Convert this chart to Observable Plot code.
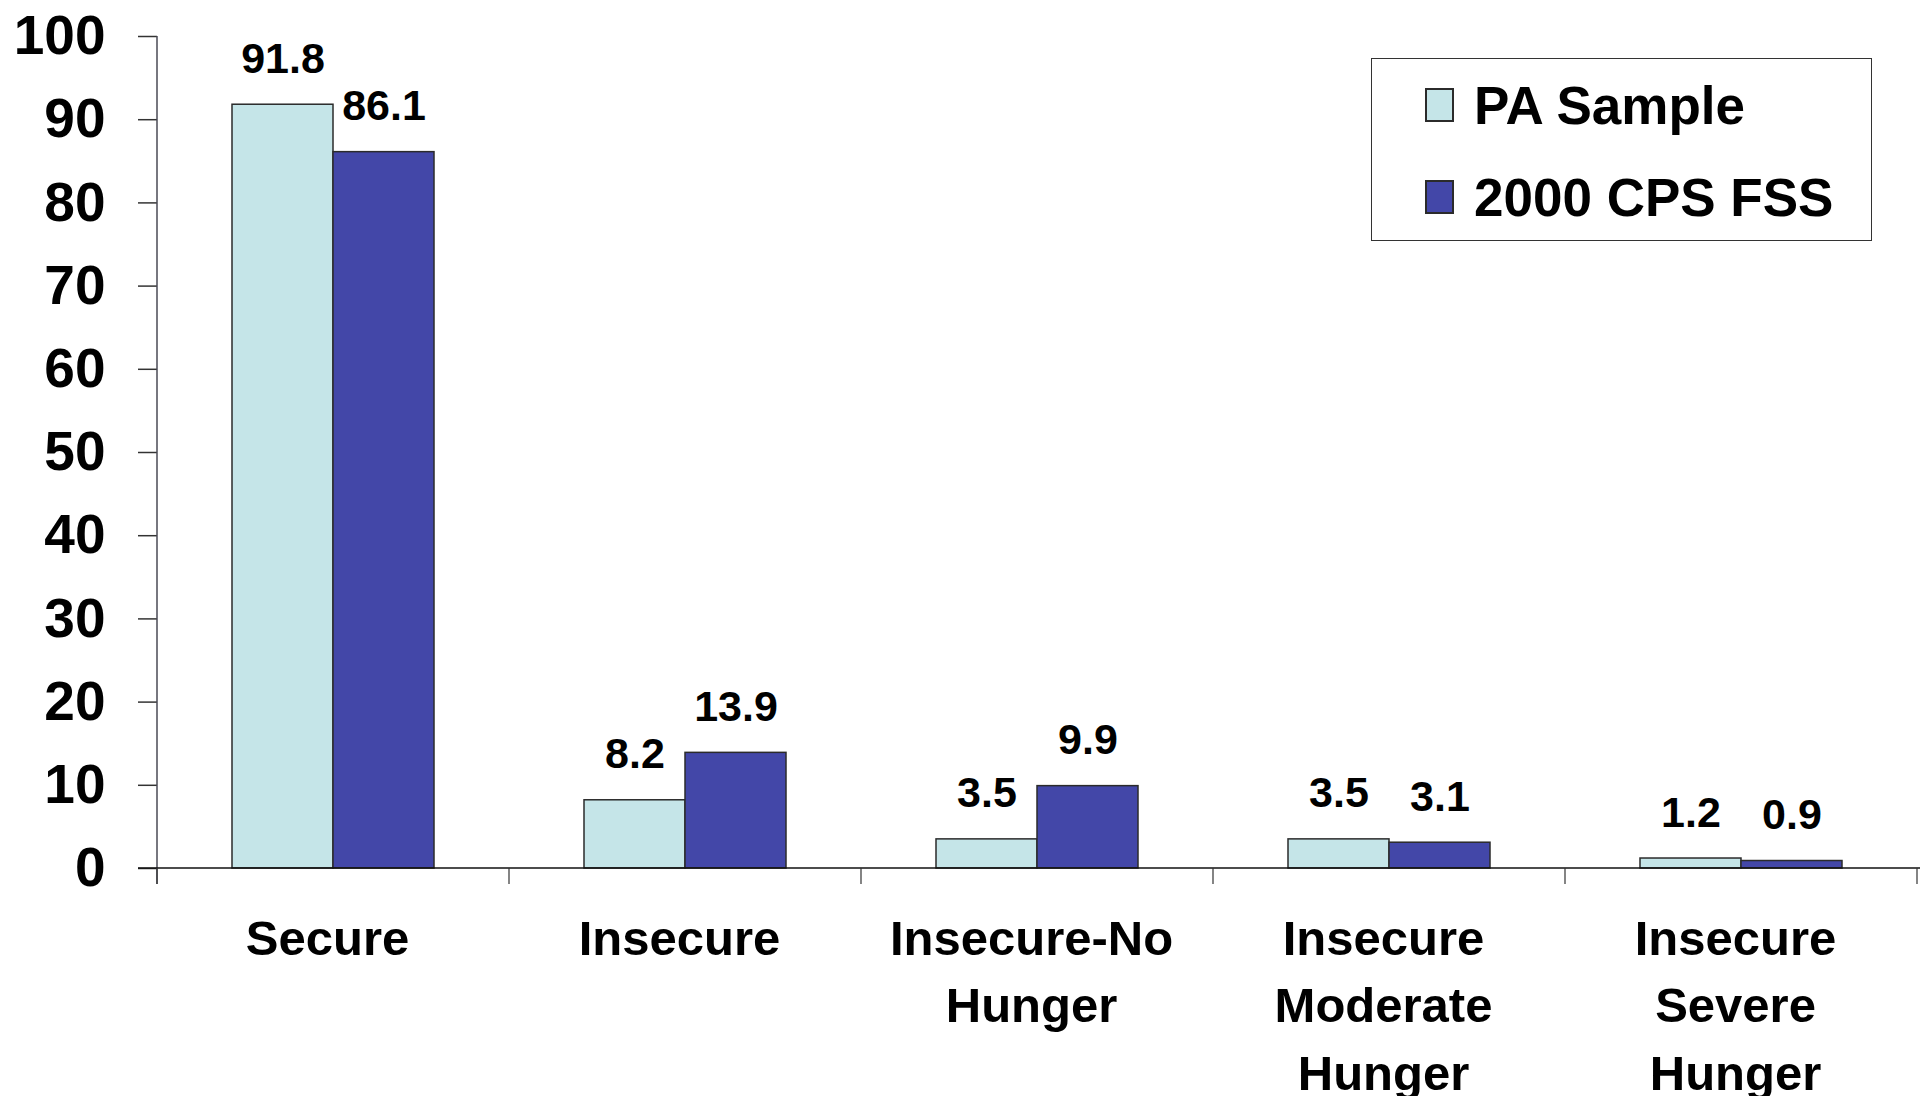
<!DOCTYPE html>
<html>
<head>
<meta charset="utf-8">
<script src="https://cdn.jsdelivr.net/npm/d3@7"></script>
<script src="https://cdn.jsdelivr.net/npm/@observablehq/plot@0.6"></script>
<style>
  html, body { margin: 0; padding: 0; background: #fff; overflow: hidden; }
  #wrap { position: relative; width: 1920px; height: 1096px; font-family: "Liberation Sans", Arial, Helvetica, sans-serif; }
  #legend { position: absolute; left: 1371px; top: 58px; width: 499px; height: 181px; border: 1.5px solid #333; background: #fff; }
  .item { position: absolute; left: 53px; height: 60px; display: flex; align-items: center; }
  .sw { width: 25px; height: 30px; border: 2px solid #2b2b2b; box-sizing: content-box; margin-right: 20px; }
  .lab { font-size: 53px; font-weight: bold; line-height: 1; color: #000; white-space: nowrap; }
</style>
</head>
<body>
<div id="wrap">
  <div id="chart"></div>
  <div id="legend"></div>
</div>
<script>
const categories = ["Secure", "Insecure", "Insecure-No Hunger", "Insecure Moderate Hunger", "Insecure Severe Hunger"];
const tickLabels = ["Secure", "Insecure", "Insecure-No\nHunger", "Insecure\nModerate\nHunger", "Insecure\nSevere\nHunger"];
const series = ["PA Sample", "2000 CPS FSS"];
const paSample = [91.8, 8.2, 3.5, 3.5, 1.2];
const cps2000 = [86.1, 13.9, 9.9, 3.1, 0.9];
const yTicks = [0, 10, 20, 30, 40, 50, 60, 70, 80, 90, 100];
const colors = ["#c5e5e8", "#4347a8"];

const FONT = '"Liberation Sans", Arial, Helvetica, sans-serif';

const data = categories.flatMap((c, i) => [
  {category: c, series: series[0], value: paSample[i]},
  {category: c, series: series[1], value: cps2000[i]}
]);

function axisLines(index, scales, values, dims) {
  const {marginLeft, marginRight, width} = dims;
  const y0 = scales.y(0), y100 = scales.y(100);
  let edges;
  if (scales.fx && scales.fx.bandwidth) {
    const bw = scales.fx.bandwidth();
    edges = categories.map(c => scales.fx(c));
    edges.push(scales.fx(categories[categories.length - 1]) + bw);
  } else {
    const w = (width - marginLeft - marginRight) / categories.length;
    edges = d3.range(categories.length + 1).map(i => marginLeft + i * w);
  }
  const g = d3.create("svg:g");
  g.append("line").attr("x1", marginLeft).attr("x2", marginLeft)
    .attr("y1", y100).attr("y2", y0 + 16).attr("stroke", "#4a4a55").attr("stroke-width", 1.5);
  g.append("line").attr("x1", marginLeft - 19).attr("x2", width)
    .attr("y1", y0).attr("y2", y0).attr("stroke", "#111").attr("stroke-width", 1.5);
  g.selectAll("line.t").data(edges).join("line").attr("class", "t")
    .attr("x1", d => d).attr("x2", d => d)
    .attr("y1", y0).attr("y2", y0 + 16).attr("stroke", "#333").attr("stroke-width", 1.2);
  return g.node();
}

const chart = Plot.plot({
  width: 1920,
  height: 1096,
  marginLeft: 157,
  marginRight: 3,
  marginTop: 36,
  marginBottom: 228,
  style: {fontFamily: FONT, fontWeight: "bold", background: "white", overflow: "visible", color: "black"},
  fx: {domain: categories, padding: 0, label: null},
  x: {domain: series, paddingInner: 0, paddingOuter: 0.74, axis: null},
  y: {domain: [0, 100], label: null},
  color: {domain: series, range: colors},
  marks: [
    Plot.barY(data, {fx: "category", x: "series", y: "value", fill: "series", stroke: "#2b2b2b", strokeWidth: 1.5}),
    Plot.text(data, {fx: "category", x: "series", y: "value", text: d => d.value.toFixed(1), dy: -32, lineAnchor: "bottom", fontSize: 43, fontWeight: "bold", fill: "black"}),
    Plot.axisY({ticks: yTicks, tickSize: 19, tickPadding: 33, fontSize: 55, fontWeight: "bold", stroke: "#333", fill: "black", strokeWidth: 1.5, label: null, tickFormat: d => String(d)}),
    Plot.axisFx({anchor: "bottom", tickSize: 0, tickPadding: 38, dx: -6, fontSize: 49, fontWeight: "bold", lineHeight: 1.38, fill: "black", label: null, tickFormat: d => tickLabels[categories.indexOf(d)]}),
    Plot.frame({facet: "super", stroke: "none", render: (index, scales, values, dims) => axisLines(index, scales, values, dims)})
  ]
});
document.getElementById("chart").appendChild(chart);

const legend = document.getElementById("legend");
series.forEach((s, i) => {
  const item = document.createElement("div");
  item.className = "item";
  item.style.top = (i === 0 ? 16 : 108) + "px";
  const sw = document.createElement("div");
  sw.className = "sw";
  sw.style.background = colors[i];
  const lab = document.createElement("div");
  lab.className = "lab";
  lab.textContent = s;
  item.appendChild(sw);
  item.appendChild(lab);
  legend.appendChild(item);
});
</script>
</body>
</html>
